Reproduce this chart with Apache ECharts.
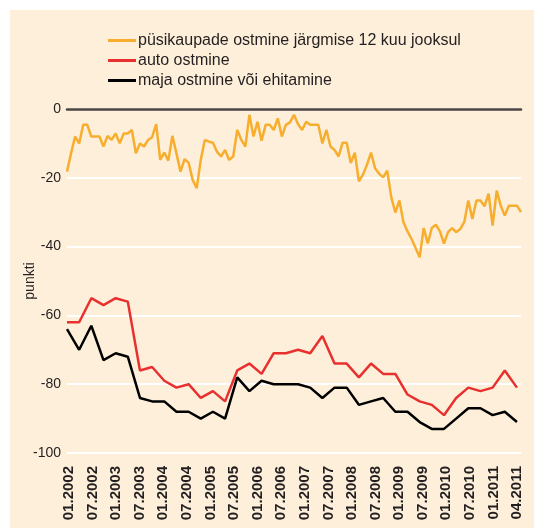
<!DOCTYPE html>
<html>
<head>
<meta charset="utf-8">
<script src="https://cdn.jsdelivr.net/npm/echarts@6/dist/echarts.min.js"></script>
<style>
  html, body { margin: 0; padding: 0; background: #ffffff; }
  #bg { position: absolute; left: 10px; top: 10px; width: 524px; height: 518px; background: #fdefd9; }
  #chart { position: absolute; left: 0; top: 0; width: 534px; height: 528px; }
</style>
</head>
<body>
<div id="bg"></div>
<div id="chart"></div>
<script>
// kuud 01.2002 ... 05.2011
const months = [];
for (let y = 2002; y <= 2011; y++) {
  for (let m = 1; m <= 12; m++) {
    if (y === 2011 && m > 5) break;
    months.push((m < 10 ? "0" + m : "" + m) + "." + y);
  }
}

// x-telje sildid
const tickLabels = [
  "01.2002", "07.2002", "01.2003", "07.2003", "01.2004", "07.2004",
  "01.2005", "07.2005", "01.2006", "07.2006", "01.2007", "07.2007",
  "01.2008", "07.2008", "01.2009", "07.2009", "01.2010", "07.2010",
  "01.2011", "04.2011",
];

// püsikaupade ostmine (igakuine)
const durables = [
  -18.2, -12.9, -8.0, -10.0, -4.6, -4.6, -8.0, -8.0, -8.0, -10.9,
  -7.8, -9.0, -7.1, -10.0, -7.1, -7.1, -6.1, -12.9, -10.0, -10.9,
  -9.0, -8.2, -4.4, -14.8, -12.7, -15.0, -7.8, -12.9, -18.2, -14.6,
  -15.6, -20.6, -23.0, -14.8, -9.0, -9.5, -9.8, -12.4, -13.8, -11.9,
  -14.8, -13.8, -6.1, -9.0, -10.9, -1.7, -8.0, -3.7, -9.2, -4.6,
  -4.6, -6.1, -2.7, -8.0, -4.6, -3.9, -1.7, -4.4, -6.1, -3.7,
  -4.6, -4.6, -4.6, -10.0, -6.1, -10.9, -11.9, -13.8, -9.8, -9.8,
  -15.7, -12.7, -21.0, -19.1, -16.2, -12.7, -17.2, -18.8, -19.9, -17.9,
  -25.7, -30.1, -26.6, -32.9, -35.6, -37.8, -40.4, -43.1, -34.6, -39.1,
  -34.6, -33.6, -35.6, -39.1, -35.8, -34.6, -35.8, -34.9, -32.9, -26.6,
  -32.0, -26.6, -26.6, -28.3, -24.6, -33.9, -23.7, -28.1, -31.0, -28.1,
  -28.1, -28.1, -30.0,
];

// auto ostmine (kvartalid)
const car = [
  -62, -62, -55, -57, -55, -56, -76, -75, -79, -81,
  -80, -84, -82, -85, -76, -74, -77, -71, -71, -70,
  -71, -66, -74, -74, -78, -74, -77, -77, -83, -85,
  -86, -89, -84, -81, -82, -81, -76, -81,
];

// maja ostmine või ehitamine (kvartalid)
const house = [
  -64, -70, -63, -73, -71, -72, -84, -85, -85, -88,
  -88, -90, -88, -90, -78, -82, -79, -80, -80, -80,
  -81, -84, -81, -81, -86, -85, -84, -88, -88, -91,
  -93, -93, -90, -87, -87, -89, -88, -91,
];

const names = [
  "püsikaupade ostmine järgmise 12 kuu jooksul",
  "auto ostmine",
  "maja ostmine või ehitamine",
];

// kvartaliandmed kuu-teljele
function toMonthly(arr) {
  return arr.map((v, i) => [i * 3, v]);
}

const chart = echarts.init(document.getElementById("chart"));
chart.setOption({
  backgroundColor: "transparent",
  textStyle: { fontFamily: "Liberation Sans, Arial, sans-serif" },
  legend: {
    orient: "vertical",
    left: 108,
    top: 32,
    padding: 0,
    icon: "rect",
    itemWidth: 28,
    itemHeight: 3,
    itemGap: 3,
    data: names,
    textStyle: { fontSize: 16, lineHeight: 17, color: "#231f20", padding: [0, 0, 0, -3] },
  },
  grid: [
    { left: 67, right: 13, top: 109, bottom: 75 },
    { left: 69, right: 17, top: 109, bottom: 75 },
  ],
  xAxis: [
    {
      type: "category",
      gridIndex: 0,
      data: months,
      boundaryGap: false,
      axisLine: { onZero: true, lineStyle: { color: "#4b4641", width: 2.5 } },
      axisTick: { show: false },
      axisLabel: { show: false },
      splitLine: { show: false },
      z: 5,
    },
    {
      type: "category",
      gridIndex: 1,
      data: tickLabels,
      boundaryGap: false,
      axisLine: { show: false, onZero: false },
      axisTick: { show: false },
      axisLabel: {
        interval: 0,
        rotate: 90,
        margin: 13,
        fontSize: 15,
        fontWeight: "bold",
        color: "#231f20",
      },
    },
  ],
  yAxis: [
    {
      type: "value",
      gridIndex: 0,
      min: -100,
      max: 0,
      interval: 20,
      name: "punkti",
      nameLocation: "middle",
      nameGap: 30,
      nameMoveOverlap: false,
      nameTextStyle: { fontSize: 14, color: "#231f20" },
      axisLine: { show: false },
      axisTick: { show: false },
      axisLabel: { fontSize: 14, color: "#231f20", margin: 6 },
      splitLine: { lineStyle: { color: "#ffffff", width: 2 } },
    },
    { type: "value", gridIndex: 1, show: false },
  ],
  series: [
    {
      name: names[0],
      type: "line",
      data: durables,
      symbol: "none",
      lineStyle: { color: "#f7ae2f", width: 2.5 },
      itemStyle: { color: "#f7ae2f" },
      z: 3,
    },
    {
      name: names[1],
      type: "line",
      data: toMonthly(car),
      symbol: "none",
      lineStyle: { color: "#e8312f", width: 2.5 },
      itemStyle: { color: "#e8312f" },
    },
    {
      name: names[2],
      type: "line",
      data: toMonthly(house),
      symbol: "none",
      lineStyle: { color: "#000000", width: 2.5 },
      itemStyle: { color: "#000000" },
    },
  ],
});
</script>
</body>
</html>
